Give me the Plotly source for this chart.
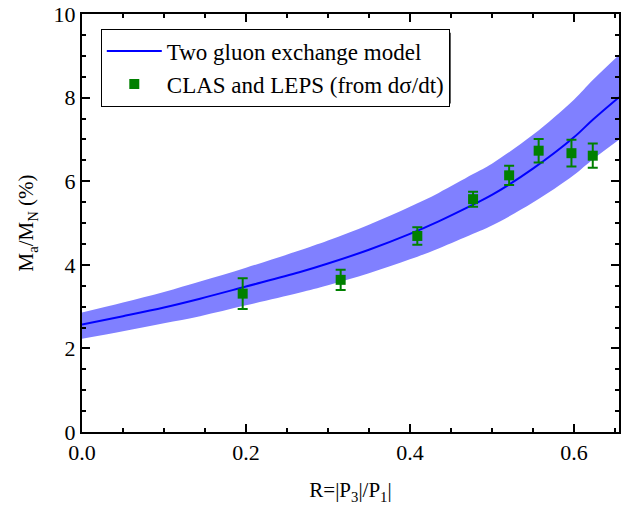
import plotly.graph_objects as go

# Model curve (two gluon exchange) and its uncertainty band
r_model = [0.0, 0.05, 0.10, 0.144, 0.20, 0.265, 0.30, 0.35, 0.40, 0.435, 0.477, 0.50, 0.55, 0.60, 0.623, 0.655]
m_model = [2.57, 2.77, 2.98, 3.19, 3.48, 3.82, 4.03, 4.36, 4.74, 5.04, 5.44, 5.67, 6.30, 7.05, 7.47, 8.01]
m_upper = [2.86, 3.10, 3.35, 3.60, 3.93, 4.34, 4.58, 4.96, 5.39, 5.72, 6.17, 6.42, 7.11, 7.95, 8.42, 9.02]
m_lower = [2.23, 2.41, 2.60, 2.77, 3.03, 3.33, 3.51, 3.80, 4.13, 4.39, 4.74, 4.94, 5.49, 6.15, 6.52, 6.99]

# CLAS and LEPS data (from dsigma/dt)
r_data = [0.196, 0.3155, 0.409, 0.477, 0.521, 0.557, 0.597, 0.623]
m_data = [3.31, 3.64, 4.69, 5.57, 6.14, 6.73, 6.67, 6.61]
m_err = [0.37, 0.24, 0.21, 0.18, 0.23, 0.28, 0.32, 0.29]

x_ticks = [0.0, 0.2, 0.4, 0.6]
y_ticks = [0, 2, 4, 6, 8, 10]

FONT = "Liberation Serif, Times New Roman, serif"
BAND = "#8080FF"

fig = go.Figure()
fig.add_trace(go.Scatter(x=r_model, y=m_lower, mode="lines",
                         line=dict(width=0, color=BAND, shape="spline"),
                         showlegend=False, hoverinfo="skip"))
fig.add_trace(go.Scatter(x=r_model, y=m_upper, mode="lines",
                         line=dict(width=0, color=BAND, shape="spline"),
                         fill="tonexty", fillcolor=BAND, showlegend=False, hoverinfo="skip"))
fig.add_trace(go.Scatter(x=r_model, y=m_model, mode="lines",
                         line=dict(color="#0000FF", width=2, shape="spline"),
                         name="Two gluon exchange model"))
fig.add_trace(go.Scatter(x=r_data, y=m_data, mode="markers",
                         marker=dict(symbol="square", size=10, color="#008000"),
                         error_y=dict(type="data", array=m_err, visible=True, color="#008000",
                                      thickness=2, width=5),
                         name="CLAS and LEPS (from dσ/dt)"))

axis_common = dict(showline=True, linecolor="black", linewidth=2, mirror="ticks",
                   ticks="inside", ticklen=8, tickwidth=2, tickcolor="black",
                   showgrid=False, zeroline=False,
                   tickfont=dict(family=FONT, size=22, color="black"))

fig.update_xaxes(range=[0, 0.655], tickvals=x_ticks, ticktext=[f"{v:.1f}" for v in x_ticks],
                 minor=dict(dtick=0.05, ticks="inside", ticklen=4, tickwidth=2, tickcolor="black"),
                 title=dict(text="R=|P<sub>3</sub>|/P<sub>1</sub>|", font=dict(family=FONT, size=21, color="black"),
                            standoff=18),
                 **axis_common)
fig.update_yaxes(range=[0, 10], tickvals=y_ticks, ticktext=[str(v) for v in y_ticks],
                 minor=dict(dtick=0.5, ticks="inside", ticklen=4, tickwidth=2, tickcolor="black"),
                 title=dict(text="M<sub>a</sub>/M<sub>N</sub> (%)", font=dict(family=FONT, size=21, color="black"),
                            standoff=14),
                 **axis_common)

fig.update_layout(
    width=622, height=508,
    margin=dict(l=82, r=1, t=14, b=76),
    plot_bgcolor="white", paper_bgcolor="white",
    font=dict(family=FONT, color="black"),
    legend=dict(x=0.035, y=0.965, xanchor="left", yanchor="top",
                bgcolor="white", bordercolor="black", borderwidth=1,
                font=dict(family=FONT, size=23, color="black"),
                itemwidth=55, tracegroupgap=0, traceorder="normal"),
    shapes=[dict(type="rect", xref="paper", yref="paper",
                 x0=0.043, x1=0.6865, y0=0.786, y1=0.955,
                 fillcolor="black", line=dict(width=0), layer="above")],
)

fig.write_html("out.html")
